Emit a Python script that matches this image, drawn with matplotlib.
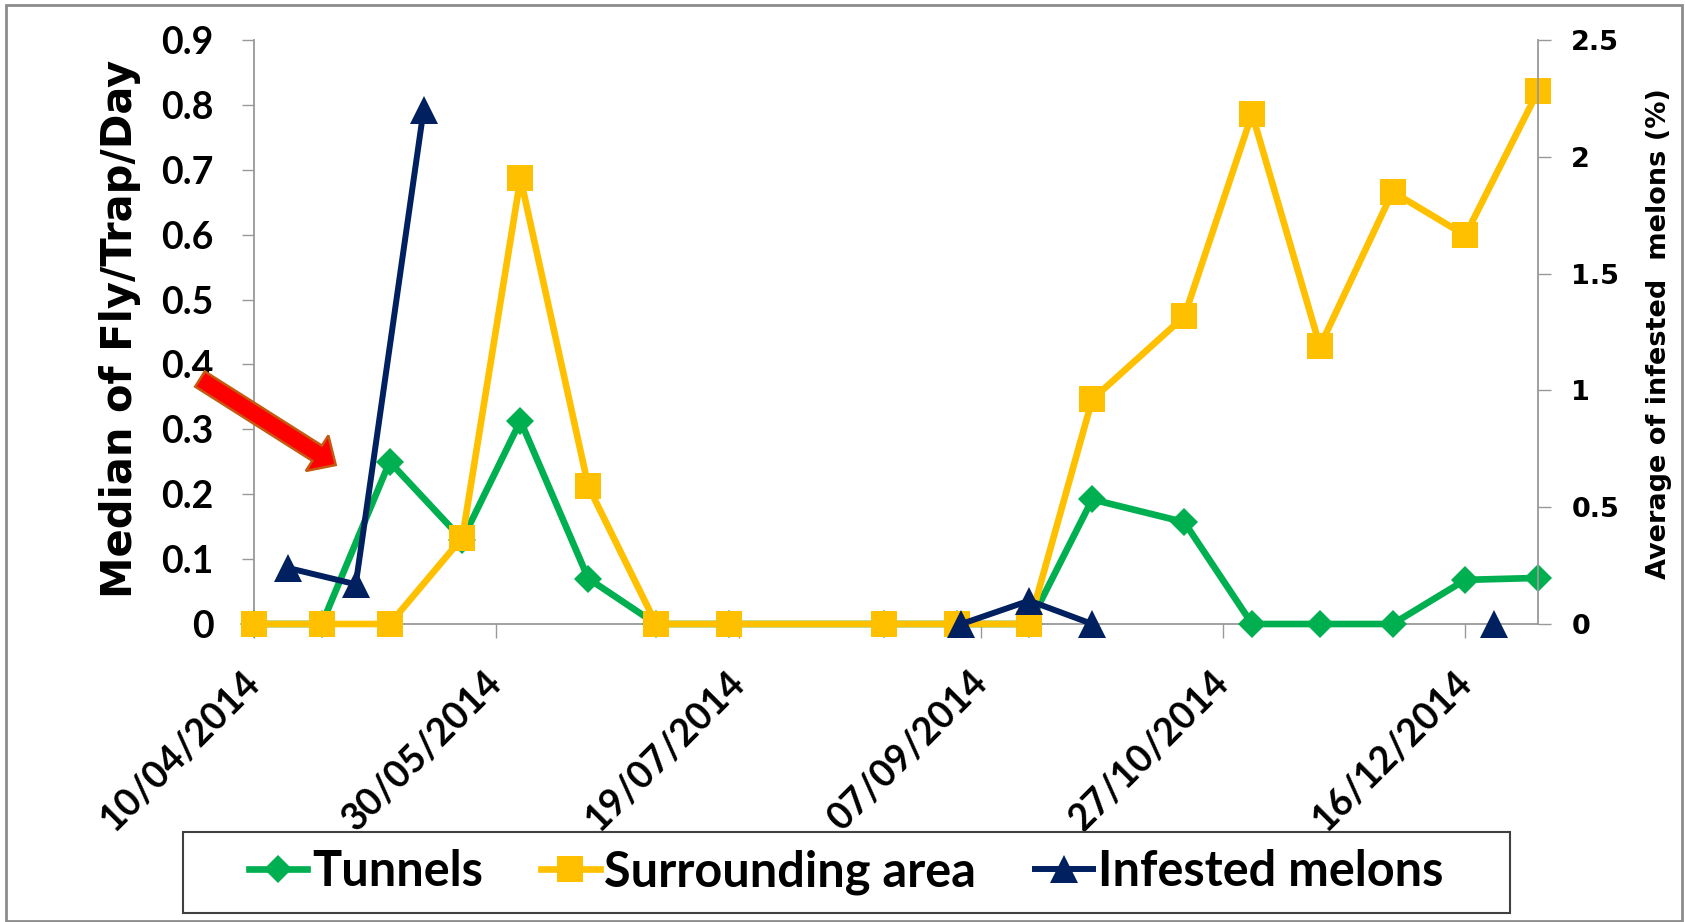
import numpy as np
import pandas as pd
import matplotlib
matplotlib.use("Agg")
import matplotlib.pyplot as plt
import matplotlib.dates as mdates
from matplotlib.patches import FancyArrow, Rectangle

# fly trap collection dates
trap_dates = pd.to_datetime([
    "2014-04-10", "2014-04-24", "2014-05-08", "2014-05-23", "2014-06-04",
    "2014-06-18", "2014-07-02", "2014-07-17", "2014-08-18", "2014-09-02",
    "2014-09-17", "2014-09-30", "2014-10-19", "2014-11-02", "2014-11-16",
    "2014-12-01", "2014-12-16", "2014-12-31"])
tunnels = [0, 0, 0.25, 0.13, 0.313, 0.07, 0, 0, 0, 0, 0, 0.192, 0.157,
           0, 0, 0, 0.068, 0.071]
surrounding = [0, 0, 0, 0.133, 0.687, 0.212, 0, 0, 0, 0, 0, 0.346, 0.474,
               0.786, 0.428, 0.666, 0.599, 0.821]

# melon inspections (NaN = no inspection, breaks the line)
melon_dates = pd.to_datetime([
    "2014-04-17", "2014-05-01", "2014-05-15", "2014-07-01",
    "2014-09-03", "2014-09-17", "2014-09-30", "2014-11-01", "2014-12-22"])
infested = [0.24, 0.17, 2.2, np.nan, 0, 0.1, 0, np.nan, 0]

x_ticks = pd.date_range("2014-04-10", periods=6, freq="50D")
left_ticks = [0, 0.1, 0.2, 0.3, 0.4, 0.5, 0.6, 0.7, 0.8, 0.9]
right_ticks = [0, 0.5, 1, 1.5, 2, 2.5]

GREEN = "#00B050"
YELLOW = "#FFC000"
NAVY = "#002060"
AXIS_GREY = "#999999"

W, H = 1685, 922
fig = plt.figure(figsize=(W / 100, H / 100), dpi=100)

def fx(px):
    return px / W

def fy(py):
    return 1 - py / H

ax = fig.add_axes([fx(254), fy(624), fx(1538) - fx(254), fy(40) - fy(624)])
ax2 = ax.twinx()

l1, = ax.plot(trap_dates, tunnels, color=GREEN, lw=4.8, marker="D", ms=14,
              mew=0, clip_on=False, zorder=3, label="Tunnels")
l2, = ax.plot(trap_dates, surrounding, color=YELLOW, lw=4.8, marker="s", ms=19,
              mew=0, clip_on=False, zorder=4, label="Surrounding area")
l3, = ax2.plot(melon_dates, infested, color=NAVY, lw=4.3, marker="^", ms=20,
               mew=0, clip_on=False, zorder=5, label="Infested melons")

ax.set_xlim(pd.Timestamp("2014-04-10"), pd.Timestamp("2014-12-31"))
ax.set_ylim(0, 0.9)
ax2.set_ylim(0, 2.5)

ax.set_xticks(x_ticks)
ax.xaxis.set_major_formatter(mdates.DateFormatter("%d/%m/%Y"))
ax.set_yticks(left_ticks)
ax.set_yticklabels([f"{v:g}" for v in left_ticks])
ax2.set_yticks(right_ticks)
ax2.set_yticklabels([f"{v:g}" for v in right_ticks])

for a in (ax, ax2):
    a.spines["top"].set_visible(False)
    for s in a.spines.values():
        s.set_color(AXIS_GREY)
        s.set_linewidth(1.3)
ax.spines["right"].set_visible(False)
ax2.spines["left"].set_visible(False)
ax2.spines["bottom"].set_visible(False)

ax.tick_params(axis="y", length=9, width=1, color=AXIS_GREY, pad=20)
ax.tick_params(axis="x", length=10, width=1, color=AXIS_GREY, pad=28)
ax2.tick_params(axis="y", length=9, width=1, color=AXIS_GREY, pad=15)

for lab in ax.get_yticklabels():
    lab.set_fontfamily("Lato")
    lab.set_fontweight("bold")
    lab.set_fontsize(27)
for lab in ax.get_xticklabels():
    lab.set_fontfamily("Lato")
    lab.set_fontweight("bold")
    lab.set_fontsize(27)
    lab.set_rotation(45)
    lab.set_ha("right")
    lab.set_va("center")
    lab.set_rotation_mode("anchor")
for lab in ax2.get_yticklabels():
    lab.set_fontfamily("DejaVu Sans")
    lab.set_fontweight("bold")
    lab.set_fontsize(19.5)

fig.text(fx(120), fy(329), "Median of Fly/Trap/Day", rotation=90,
         ha="center", va="center", fontsize=30, fontweight="bold",
         family="DejaVu Sans")
fig.text(fx(1659), fy(334), "Average of infested  melons (%)", rotation=90,
         ha="center", va="center", fontsize=19.5, fontweight="bold",
         family="DejaVu Sans")

# red arrow pointing at the first melon infestation
arrow = FancyArrow(2.00, (H - 379) / 100, 1.357, -0.86, width=0.18,
                   head_width=0.42, head_length=0.22, length_includes_head=True,
                   transform=fig.dpi_scale_trans, facecolor="#FF0000",
                   edgecolor="#C55A11", linewidth=1.8, zorder=10)
fig.add_artist(arrow)

leg = fig.legend(handles=[l1, l2, l3], loc="center",
                 bbox_to_anchor=(fx(846), fy(872)), ncol=3, frameon=False,
                 prop={"family": "Lato", "weight": "bold", "size": 35},
                 handlelength=1.2, handletextpad=0.1, columnspacing=1.2,
                 borderpad=0)

fig.add_artist(Rectangle((fx(183), fy(913)), fx(1510) - fx(183), fy(832) - fy(913),
                         transform=fig.transFigure, fill=False,
                         edgecolor="#404040", linewidth=1.5))
fig.add_artist(Rectangle((fx(6), fy(921)), fx(1682) - fx(6), fy(5) - fy(921),
                         transform=fig.transFigure, fill=False,
                         edgecolor="#8c8c8c", linewidth=2))

fig.savefig("out.png", dpi=100)
